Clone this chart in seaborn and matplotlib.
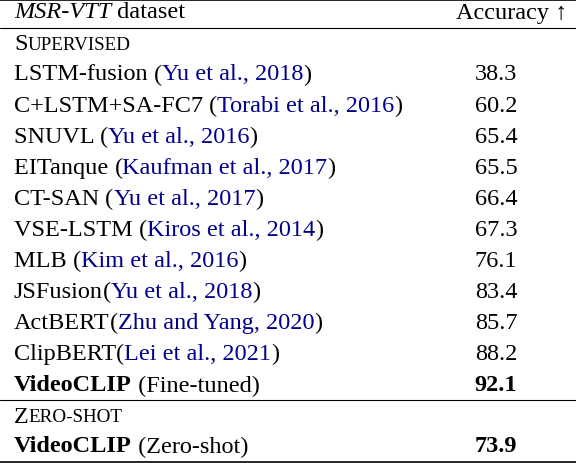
import matplotlib
matplotlib.use("Agg")
import matplotlib.pyplot as plt
import seaborn as sns

sns.set_theme(style="white")
plt.rcParams['font.family'] = ['Liberation Serif', 'DejaVu Serif']
plt.rcParams['text.color'] = 'black'

methods = ["LSTM-fusion ", "C+LSTM+SA-FC7 ", "SNUVL ", "EITanque ", "CT-SAN ", "VSE-LSTM ",
           "MLB ", "JSFusion", "ActBERT", "ClipBERT"]
citations = ["Yu et al., 2018", "Torabi et al., 2016", "Yu et al., 2016", "Kaufman et al., 2017",
             "Yu et al., 2017", "Kiros et al., 2014", "Kim et al., 2016", "Yu et al., 2018",
             "Zhu and Yang, 2020", "Lei et al., 2021"]
accuracy = [38.3, 60.2, 65.4, 65.5, 66.4, 67.3, 76.1, 83.4, 85.7, 88.2]
ours_sup = ("VideoCLIP", " (Fine-tuned)", 92.1)
ours_zs = ("VideoCLIP", " (Zero-shot)", 73.9)

W, H = 576, 464
fig = plt.figure(figsize=(W/100, H/100), dpi=100)
ax = fig.add_axes([0, 0, 1, 1])
ax.set_xlim(0, W); ax.set_ylim(H, 0); ax.axis('off')
fig.canvas.draw()
r = fig.canvas.get_renderer()
FS = 17.5
BLUE = '#00008B'
NX = 496

def seq(x, y, parts):
    for s, kw in parts:
        t = ax.text(x, y, s, fontsize=kw.get('fs', FS), color=kw.get('c', 'black'),
                    weight=kw.get('w', 'normal'), style=kw.get('st', 'normal'),
                    va='center', ha='left')
        bb = t.get_window_extent(renderer=r)
        x += bb.width

def smallcaps(x, y, word):
    seq(x, y, [(word[0], {}), (word[1:].upper(), {'fs': FS*0.78})])

ax.plot([0, W], [1, 1], color='black', lw=1.2)
seq(14, 13, [("MSR-VTT", {'st': 'italic'}), (" dataset", {})])
ax.text(567, 13, "Accuracy ↑", fontsize=FS, ha='right', va='center')
ax.plot([0, W], [29, 29], color='black', lw=0.8)
smallcaps(14, 45, "Supervised")
y0, dy = 75, 31.1
for i, (m, c, a) in enumerate(zip(methods, citations, accuracy)):
    y = y0 + i*dy
    seq(14, y, [(m, {}), ("(", {}), (c, {'c': BLUE}), (")", {})])
    ax.text(NX, y, f"{a:.1f}", fontsize=FS, ha='center', va='center')
y = y0 + len(methods)*dy
seq(14, y, [(ours_sup[0], {'w': 'bold'}), (ours_sup[1], {})])
ax.text(NX, y, f"{ours_sup[2]:.1f}", fontsize=FS, ha='center', va='center', weight='bold')
ax.plot([0, W], [401, 401], color='black', lw=0.8)
smallcaps(14, 418, "Zero-shot")
seq(14, 447, [(ours_zs[0], {'w': 'bold'}), (ours_zs[1], {})])
ax.text(NX, 447, f"{ours_zs[2]:.1f}", fontsize=FS, ha='center', va='center', weight='bold')
ax.plot([0, W], [463, 463], color='black', lw=1.2)
fig.savefig("out.png", dpi=100)
